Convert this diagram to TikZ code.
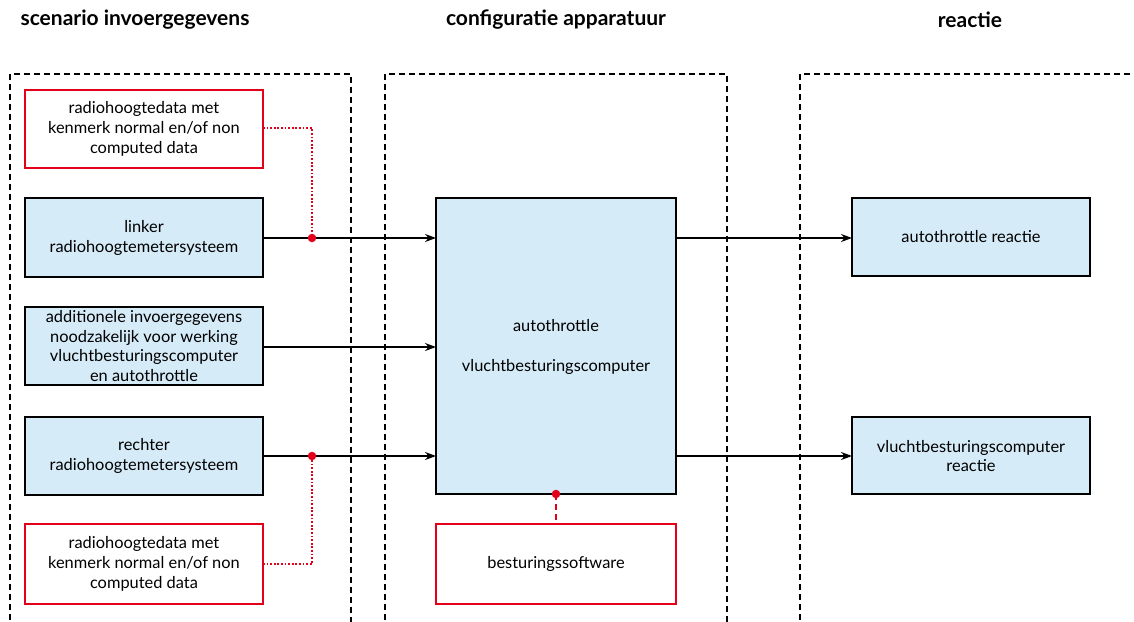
\documentclass[tikz,border=0pt]{standalone}
\usepackage{fontspec}
\setmainfont{Lato}
\usetikzlibrary{arrows.meta}
\definecolor{boxblue}{HTML}{D6EBF8}
\definecolor{redline}{HTML}{E2001A}
\begin{document}
\begin{tikzpicture}[x=1pt,y=-1pt,
  every node/.style={font=\fontsize{16.4}{19.8}\selectfont, align=center, inner sep=0pt},
  bluebox/.style={draw=black, line width=1.6pt, fill=boxblue},
  redbox/.style={draw=redline, line width=1.6pt, fill=white},
  frame/.style={draw=black, line width=1.6pt, dash pattern=on 6pt off 4pt},
  title/.style={font=\fontsize{21}{24}\selectfont\bfseries},
  flow/.style={draw=black, line width=1.5pt, -{Stealth[length=11pt,width=8pt]}},
  reddot/.style={circle, fill=redline, minimum size=8.5pt, inner sep=0pt},
  reddotted/.style={draw=redline, line width=1.5pt, dash pattern=on 1.8pt off 1.8pt},
  reddashed/.style={draw=redline, line width=1.8pt, dash pattern=on 6pt off 4pt}
]
\useasboundingbox (0,0) rectangle (1134,621);
% titles
\node[title] (t1) at (135,20) {scenario invoergegevens};
\node[title] (t2) at (556,20) {configuratie apparatuur};
\node[title] (t3) at (970,20) {reactie};
% frames
\draw[frame] (10,630) -- (10,74) -- (351,74) -- (351,630);
\draw[frame] (385,630) -- (385,74) -- (727,74) -- (727,630);
\draw[frame] (800,630) -- (800,74) -- (1140,74);
% left boxes
\draw[redbox] (25,90) rectangle (263,168);
\node (r1) at (144,129) {radiohoogtedata met\\kenmerk normal en/of non\\computed data};
\draw[bluebox] (25,198) rectangle (263,277);
\node (l1) at (144,238) {linker\\radiohoogtemetersysteem};
\draw[bluebox] (25,307) rectangle (263,385);
\node (a1) at (144,346) {additionele invoergegevens\\noodzakelijk voor werking\\vluchtbesturingscomputer\\en autothrottle};
\draw[bluebox] (25,417) rectangle (263,495);
\node (rr) at (144,456) {rechter\\radiohoogtemetersysteem};
\draw[redbox] (25,524) rectangle (263,604);
\node (r2) at (144,564) {radiohoogtedata met\\kenmerk normal en/of non\\computed data};
% centre
\draw[bluebox] (436,198) rectangle (676,494);
\node (c) at (556,347) {autothrottle\\[19.8pt]vluchtbesturingscomputer};
\draw[redbox] (436,524) rectangle (676,604);
\node (s) at (556,564) {besturingssoftware};
% right
\draw[bluebox] (852,198) rectangle (1090,276);
\node (o1) at (971,237) {autothrottle reactie};
\draw[bluebox] (852,417) rectangle (1090,494);
\node (o2) at (971,456) {vluchtbesturingscomputer\\reactie};
% coordinates
\coordinate (l1e) at (263,238);
\coordinate (a1e) at (263,347);
\coordinate (rre) at (263,456);
\coordinate (ci1) at (436,238);
\coordinate (ci2) at (436,347);
\coordinate (ci3) at (436,456);
\coordinate (co1) at (676,238);
\coordinate (co2) at (676,456);
\coordinate (o1w) at (852,238);
\coordinate (o2w) at (852,456);
\coordinate (d1) at (312,238);
\coordinate (d2) at (312,456);
\coordinate (r1e) at (263,128);
\coordinate (r2e) at (263,564);
\coordinate (cb) at (556,494);
\coordinate (st) at (556,524);
% red connectors
\draw[reddotted] (r1e) -| (d1);
\draw[reddotted] (r2e) -| (d2);
\draw[reddashed] (cb) -- (st);
% flows
\draw[flow] (l1e) -- (ci1);
\draw[flow] (a1e) -- (ci2);
\draw[flow] (rre) -- (ci3);
\draw[flow] (co1) -- (o1w);
\draw[flow] (co2) -- (o2w);
\node[reddot] (dot1) at (d1) {};
\node[reddot] (dot2) at (d2) {};
\node[reddot] (dot3) at (cb) {};
\end{tikzpicture}
\end{document}
